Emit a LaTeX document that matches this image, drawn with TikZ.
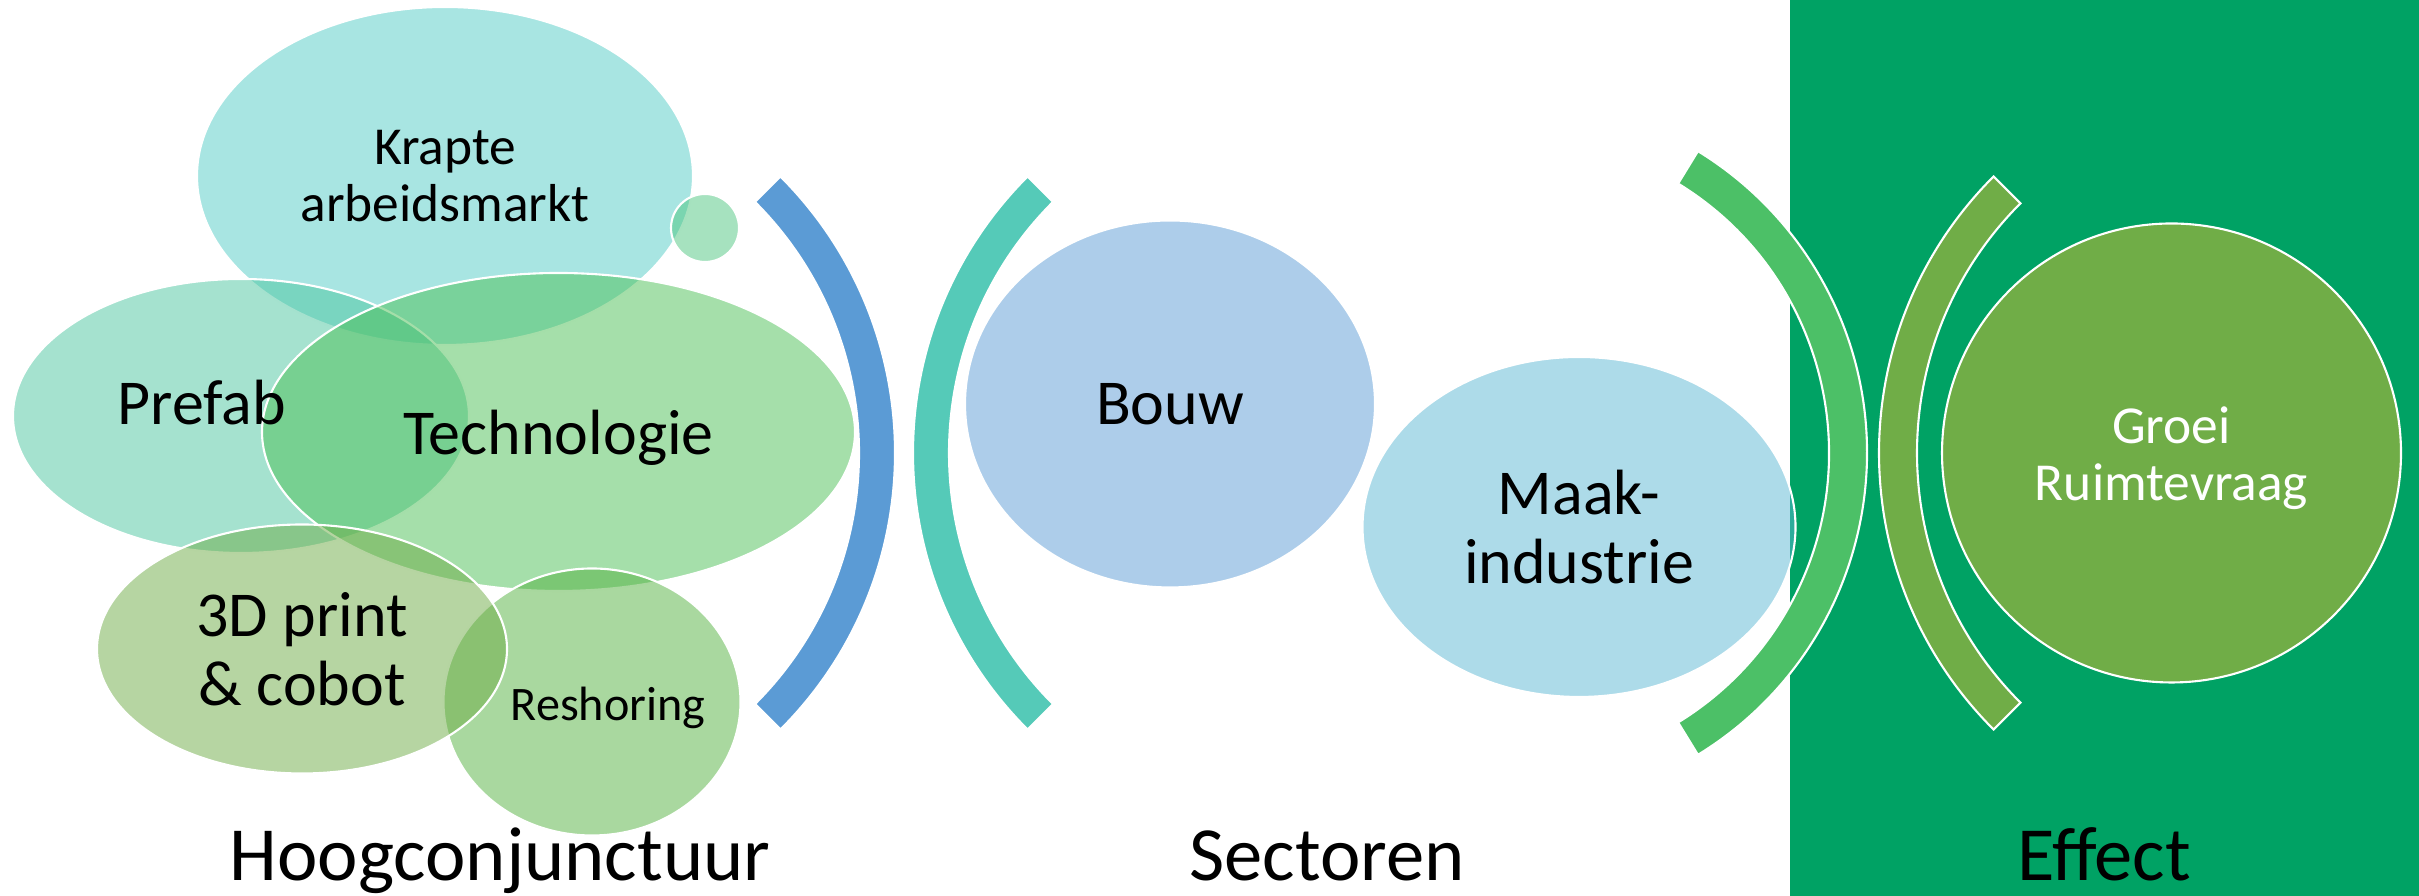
\documentclass[tikz,border=0pt]{standalone}
\usepackage{fontspec}
\setmainfont{Carlito}
\usepackage{tikz}
\usetikzlibrary{shapes.geometric,calc}
\definecolor{effbg}{HTML}{00A264}
\definecolor{krapc}{HTML}{51CBC5}
\definecolor{dotc}{HTML}{4DC57F}
\definecolor{prefc}{HTML}{4BC59F}
\definecolor{techc}{HTML}{4BBF55}
\definecolor{reshc}{HTML}{53B13F}
\definecolor{printc}{HTML}{6DAB45}
\definecolor{bouwc}{HTML}{5B9BD5}
\definecolor{maakc}{HTML}{5BB7D3}
\definecolor{arcblue}{HTML}{5B9BD5}
\definecolor{arcteal}{HTML}{55CAB8}
\definecolor{arcgreen}{HTML}{4CC067}
\definecolor{olive}{HTML}{70AD47}

\begin{document}
\begin{tikzpicture}[
  bubble/.style={ellipse,draw=white,line width=0.6pt,fill opacity=0.5,draw opacity=1,inner sep=0pt},
  band/.style={draw=white,line width=0.6pt},
  lbl/.style={align=center,text=black,inner sep=0pt,font=\fontsize{18.2pt}{19.6pt}\selectfont},
  small/.style={font=\fontsize{15.2pt}{16pt}\selectfont},
  caption/.style={anchor=base,inner sep=0pt,font=\fontsize{21.8pt}{26pt}\selectfont}]
  \useasboundingbox (0,0) rectangle (24.19,8.96);
  % effect column
  \fill[effbg] (17.90,0) rectangle (24.19,8.96);

  % hoogconjunctuur cluster
  \node[bubble,fill=krapc,minimum width=4.96cm,minimum height=3.38cm] (krapte) at (4.45,7.20) {};
  \node[bubble,circle,fill=dotc,minimum size=0.68cm] (dot) at (7.05,6.68) {};
  \node[bubble,fill=prefc,minimum width=4.56cm,minimum height=2.74cm] (prefab) at (2.41,4.80) {};
  \node[bubble,fill=techc,minimum width=5.93cm,minimum height=3.18cm] (tech) at (5.585,4.64) {};
  \node[bubble,fill=reshc,minimum width=2.97cm,minimum height=2.67cm] (resh) at (5.92,1.94) {};
  \node[bubble,fill=printc,minimum width=4.10cm,minimum height=2.49cm] (print) at (3.02,2.47) {};

  % brackets
  \coordinate (cblue) at (5.04,4.43);
  \coordinate (cteal) at (13.04,4.43);
  \coordinate (cgreen) at (15.13,4.43);
  \coordinate (colive) at (22.70,4.43);
  \filldraw[band,fill=arcblue] ($(cblue)+(-45:3.91)$) arc[start angle=-45,end angle=45,radius=3.91cm]
    -- ($(cblue)+(45:3.55)$) arc[start angle=45,end angle=-45,radius=3.55cm] -- cycle;
  \filldraw[band,fill=arcteal] ($(cteal)+(135:3.91)$) arc[start angle=135,end angle=225,radius=3.91cm]
    -- ($(cteal)+(225:3.55)$) arc[start angle=225,end angle=135,radius=3.55cm] -- cycle;

  % sectoren
  \node[bubble,fill=bouwc,minimum width=4.10cm,minimum height=3.67cm] (bouw) at (11.70,4.92) {};
  \node[bubble,fill=maakc,minimum width=4.33cm,minimum height=3.40cm] (maak) at (15.79,3.69) {};

  \filldraw[band,fill=arcgreen] ($(cgreen)+(-58.5:3.54)$) arc[start angle=-58.5,end angle=58.5,radius=3.54cm]
    -- ($(cgreen)+(58.5:3.16)$) arc[start angle=58.5,end angle=-58.5,radius=3.16cm] -- cycle;
  \filldraw[band,fill=olive] ($(colive)+(135:3.91)$) arc[start angle=135,end angle=225,radius=3.91cm]
    -- ($(colive)+(225:3.53)$) arc[start angle=225,end angle=135,radius=3.53cm] -- cycle;

  % effect
  \node[circle,draw=white,line width=0.6pt,fill=olive,inner sep=0pt,minimum size=4.59cm] (groei) at (21.715,4.43) {};

  % texts on top
  \node[lbl,small] (tkrapte) at (krapte) {Krapte\\arbeidsmarkt};
  \node[lbl] (tprefab) at ($(prefab)+(-0.39,0.13)$) {Prefab};
  \node[lbl] (ttech) at ($(tech)+(0,-0.06)$) {Technologie};
  \node[lbl] (tprint) at (print) {3D print\\\& cobot};
  \node[lbl,font=\fontsize{13.7pt}{15pt}\selectfont] (tresh) at ($(resh)+(0.16,-0.06)$) {Reshoring};
  \node[lbl] (tbouw) at (bouw) {Bouw};
  \node[lbl] (tmaak) at (maak) {Maak-\\industrie};
  \node[lbl,text=white,font=\fontsize{15.2pt}{16.2pt}\selectfont] (tgroei) at ($(groei)+(0,-0.05)$) {Groei\\Ruimtevraag};

  \node[caption] (hoog) at (5.00,0.15) {Hoogconjunctuur};
  \node[caption] (sect) at (13.27,0.15) {Sectoren};
  \node[caption] (eff) at (21.04,0.15) {Effect};
\end{tikzpicture}
\end{document}
